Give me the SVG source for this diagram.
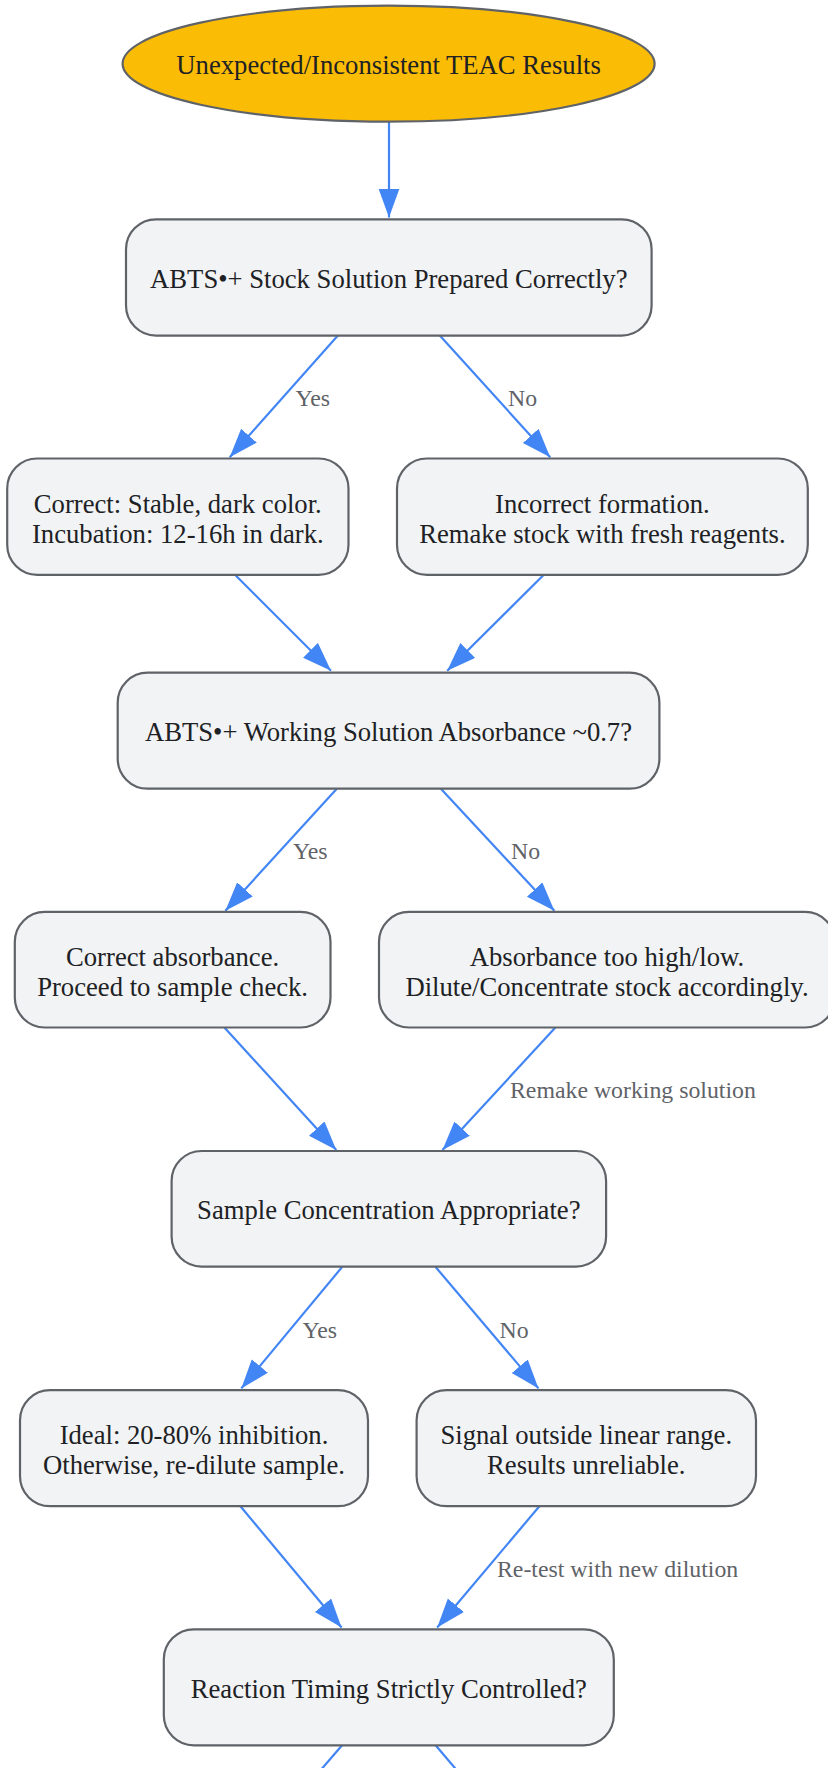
<svg xmlns="http://www.w3.org/2000/svg" width="828" height="1768" viewBox="0 0 828 1768">
<style>
.node rect{fill:#F1F3F4;stroke:#5F6368;stroke-width:2.2}
.start ellipse{fill:#FBBC05;stroke:#5F6368;stroke-width:2.2}
.nt{font-family:"Liberation Serif","Times New Roman",serif;font-size:26.67px;fill:#202124;text-anchor:middle}
.lt{font-family:"Liberation Serif","Times New Roman",serif;font-size:23.8px;fill:#5F6368}
.edges line{stroke:#4285F4;stroke-width:2.2;fill:none}
</style>
<defs>
<marker id="ah" markerUnits="userSpaceOnUse" markerWidth="30" markerHeight="22" refX="29" refY="10.5" orient="auto">
<path d="M0,0 L29,10.5 L0,21 Z" fill="#4285F4"/>
</marker>
</defs>
<rect width="828" height="1768" fill="#FFFFFF"/>
<g id="connectors" class="edges">
<line x1="389" y1="122" x2="389" y2="217.5" marker-end="url(#ah)"/>
<line x1="337.9" y1="335.6" x2="229.7" y2="457.3" marker-end="url(#ah)"/>
<line x1="439.8" y1="335.6" x2="550.2" y2="457.3" marker-end="url(#ah)"/>
<line x1="235" y1="574.8" x2="331" y2="670.8" marker-end="url(#ah)"/>
<line x1="543.8" y1="574.8" x2="447.2" y2="670.8" marker-end="url(#ah)"/>
<line x1="336.8" y1="788.7" x2="225.4" y2="910.8" marker-end="url(#ah)"/>
<line x1="440.9" y1="788.7" x2="554.4" y2="910.8" marker-end="url(#ah)"/>
<line x1="224.4" y1="1027.5" x2="336.3" y2="1150" marker-end="url(#ah)"/>
<line x1="555.4" y1="1027.5" x2="442.5" y2="1150" marker-end="url(#ah)"/>
<line x1="342.1" y1="1267" x2="241.3" y2="1388.4" marker-end="url(#ah)"/>
<line x1="435.6" y1="1267" x2="538.5" y2="1388.4" marker-end="url(#ah)"/>
<line x1="240.2" y1="1506" x2="341.6" y2="1627.5" marker-end="url(#ah)"/>
<line x1="539.6" y1="1506" x2="437.2" y2="1627.5" marker-end="url(#ah)"/>
<line x1="342.1" y1="1745.3" x2="300" y2="1794"/>
<line x1="435.6" y1="1745.3" x2="477" y2="1794"/>
<text class="lt" x="295.5" y="406">Yes</text>
<text class="lt" x="508" y="406">No</text>
<text class="lt" x="293" y="859">Yes</text>
<text class="lt" x="511" y="859">No</text>
<text class="lt" x="510" y="1098.3">Remake working solution</text>
<text class="lt" x="302.5" y="1338">Yes</text>
<text class="lt" x="499.5" y="1338">No</text>
<text class="lt" x="497" y="1577">Re-test with new dilution</text>
</g>
<g id="start" class="start">
<ellipse cx="388.6" cy="63.7" rx="266" ry="58"/>
<text class="nt" x="388.6" y="74">Unexpected/Inconsistent TEAC Results</text>
</g>
<g id="stock" class="node">
<rect x="126" y="219.3" width="525.6" height="116.3" rx="30" ry="30"/>
<text class="nt" x="388.8" y="288.2">ABTS•+ Stock Solution Prepared Correctly?</text>
</g>
<g id="stock_yes" class="node">
<rect x="7.2" y="458.5" width="341.3" height="116.3" rx="30" ry="30"/>
<text class="nt" x="177.8" y="512.5">Correct: Stable, dark color.</text>
<text class="nt" x="177.8" y="542.5">Incubation: 12-16h in dark.</text>
</g>
<g id="stock_no" class="node">
<rect x="397" y="458.5" width="410.8" height="116.3" rx="30" ry="30"/>
<text class="nt" x="602.4" y="512.5">Incorrect formation.</text>
<text class="nt" x="602.4" y="542.5">Remake stock with fresh reagents.</text>
</g>
<g id="working" class="node">
<rect x="117.7" y="672.7" width="541.7" height="116" rx="30" ry="30"/>
<text class="nt" x="388.5" y="741.3">ABTS•+ Working Solution Absorbance ~0.7?</text>
</g>
<g id="working_yes" class="node">
<rect x="14.8" y="911.9" width="315.7" height="115.6" rx="30" ry="30"/>
<text class="nt" x="172.6" y="965.5">Correct absorbance.</text>
<text class="nt" x="172.6" y="995.5">Proceed to sample check.</text>
</g>
<g id="working_no" class="node">
<rect x="379" y="911.9" width="456" height="115.6" rx="30" ry="30"/>
<text class="nt" x="607" y="965.5">Absorbance too high/low.</text>
<text class="nt" x="607" y="995.5">Dilute/Concentrate stock accordingly.</text>
</g>
<g id="sample" class="node">
<rect x="171.6" y="1151" width="434.5" height="115.6" rx="30" ry="30"/>
<text class="nt" x="388.8" y="1219.4">Sample Concentration Appropriate?</text>
</g>
<g id="sample_yes" class="node">
<rect x="20" y="1390.2" width="348" height="116" rx="30" ry="30"/>
<text class="nt" x="194" y="1444">Ideal: 20-80% inhibition.</text>
<text class="nt" x="194" y="1474">Otherwise, re-dilute sample.</text>
</g>
<g id="sample_no" class="node">
<rect x="416.6" y="1390.2" width="339.4" height="116" rx="30" ry="30"/>
<text class="nt" x="586.3" y="1444">Signal outside linear range.</text>
<text class="nt" x="586.3" y="1474">Results unreliable.</text>
</g>
<g id="timing" class="node">
<rect x="163.8" y="1629.3" width="450" height="116" rx="30" ry="30"/>
<text class="nt" x="388.8" y="1698.3">Reaction Timing Strictly Controlled?</text>
</g>
</svg>
